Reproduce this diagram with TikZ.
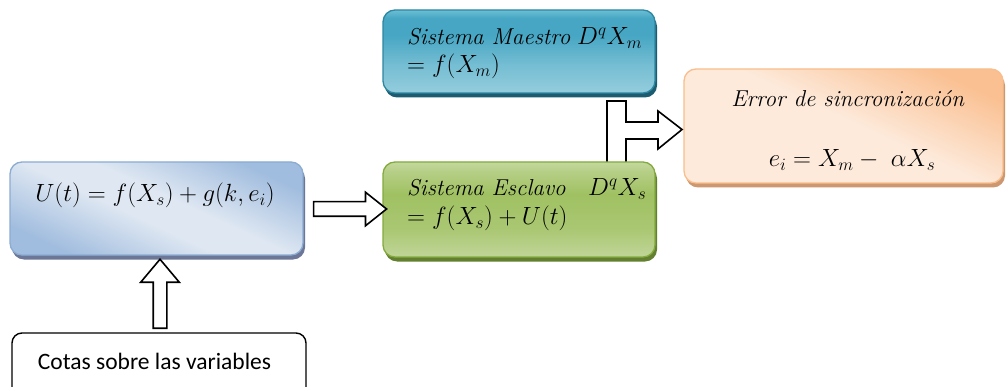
\documentclass[tikz,border=0pt]{standalone}
\usepackage{fontspec}
\newfontfamily\calib{Carlito}
\usetikzlibrary{calc,shapes.arrows,shadows}

% panel colours
\definecolor{tealT}{RGB}{108,190,212}
\definecolor{tealD}{RGB}{70,166,195}
\definecolor{tealB}{RGB}{148,205,221}
\definecolor{tealE}{RGB}{45,135,160}
\definecolor{tealS}{RGB}{28,92,112}
\definecolor{blueD}{RGB}{160,188,222}
\definecolor{blueL}{RGB}{222,231,242}
\definecolor{blueE}{RGB}{140,172,210}
\definecolor{blueS}{RGB}{108,118,150}
\definecolor{greenT}{RGB}{196,216,158}
\definecolor{greenD}{RGB}{160,193,98}
\definecolor{greenB}{RGB}{192,213,152}
\definecolor{greenE}{RGB}{132,170,62}
\definecolor{greenS}{RGB}{98,128,48}
\definecolor{orD}{RGB}{250,192,146}
\definecolor{orL}{RGB}{253,234,219}
\definecolor{orE}{RGB}{249,190,140}
\definecolor{orS}{RGB}{205,152,112}

\pgfdeclareverticalshading{tealfill}{100bp}{color(0bp)=(tealB); color(25bp)=(tealB); color(42bp)=(tealB!60!tealD); color(60bp)=(tealD); color(70bp)=(tealD); color(75bp)=(tealT); color(100bp)=(tealT)}
\pgfdeclareverticalshading{greenfill}{100bp}{color(0bp)=(greenB); color(25bp)=(greenB); color(40bp)=(greenD!70!greenB); color(58bp)=(greenD); color(70bp)=(greenT!60!greenD); color(75bp)=(greenT); color(100bp)=(greenT)}
\pgfdeclareverticalshading{bluefill}{100bp}{color(0bp)=(blueD); color(25bp)=(blueD); color(45bp)=(blueL); color(55bp)=(blueL); color(75bp)=(blueD); color(100bp)=(blueD)}
\pgfdeclareverticalshading{orfill}{100bp}{color(0bp)=(orL); color(25bp)=(orL); color(52bp)=(orL); color(75bp)=(orD); color(100bp)=(orD)}

\tikzset{
  panel/.style={rounded corners=12pt, line width=1.3pt, inner sep=0pt},
  panelshadow/.style={general shadow={shadow xshift=2pt, shadow yshift=-4.5pt, fill=#1}},
  eqtext/.style={inner sep=0pt, font=\fontsize{23}{27}\selectfont},
  blockarrow/.style={single arrow, draw=black, fill=white, line width=1.6pt,
    single arrow head indent=0pt},
  blockline/.style={draw=black, fill=white, line width=1.6pt, line join=miter}
}

\begin{document}
\begin{tikzpicture}[x=1pt,y=-1pt]
\clip (0,0) rectangle (1008,387);
\fill[white] (0,0) rectangle (1008,387);

% master system
\node[panel, panelshadow=tealS, shading=tealfill, draw=tealE,
      minimum width=272pt, minimum height=83pt] (master) at (519,51.5) {};
\node[eqtext, anchor=base west] (master1) at (407,45) {\textit{Sistema Maestro} $D^{q}X_{m}$};
\node[eqtext, anchor=base west] (master2) at (407,73) {$=f(X_{m})$};

% synchronisation error
\node[panel, panelshadow=orS, shading=orfill, shading angle=-25, draw=orE,
      minimum width=319pt, minimum height=114pt] (error) at (843.5,126) {};
\node[eqtext, anchor=base] (error1) at (848,107) {\textit{Error de sincronización}};
\node[eqtext, anchor=base] (error2) at (852,167) {$e_{i}=X_{m}-\ \alpha X_{s}$};

% control law
\node[panel, panelshadow=blueS, shading=bluefill, shading angle=-25, draw=blueE,
      minimum width=293pt, minimum height=93pt] (control) at (156.5,208.5) {};
\node[eqtext, anchor=base] (control1) at (155,202) {$U(t)=f(X_{s})+g(k,e_{i})$};

% L-shaped block arrow from the slave to the error
\draw[blockline] (607,162) -- (607,101) -- (626,101) -- (626,122) -- (658,122)
  -- (658,111) -- (682,129.5) -- (658,149) -- (658,139) -- (626,139) -- (626,162);

% slave system
\node[panel, panelshadow=greenS, shading=greenfill, draw=greenE,
      minimum width=272pt, minimum height=95pt] (slave) at (519,209.5) {};
\node[eqtext, anchor=base west] (slave1) at (407,196) {\textit{Sistema Esclavo}};
\node[eqtext, anchor=base west] (slave2) at (588,196) {$D^{q}X_{s}$};
\node[eqtext, anchor=base west] (slave3) at (407,225) {$=f(X_{s})+U(t)$};

% bounds on the variables
\node[draw=black, rounded corners=10pt, line width=1.4pt, fill=white,
      minimum width=294pt, minimum height=70pt] (bounds) at (159,368) {};
\node[inner sep=0pt, anchor=base, font=\calib\fontsize{23.5}{28}\selectfont] (bounds1) at (154.5,369) {Cotas sobre las variables};

% straight block arrows
\node[blockarrow, minimum height=73pt, inner xsep=0pt, inner ysep=6.5pt,
      single arrow head extend=9.5pt, single arrow tip angle=77]
      (toslave) at ($(control.east)!0.5!(slave.west)+(2.5,0)$) {};
\node[blockarrow, shape border rotate=90, minimum height=69pt, inner xsep=6pt, inner ysep=0pt,
      single arrow head extend=12.5pt, single arrow tip angle=80]
      (tocontrol) at ($(bounds.north)+(1,-34.5)$) {};
\end{tikzpicture}
\end{document}
